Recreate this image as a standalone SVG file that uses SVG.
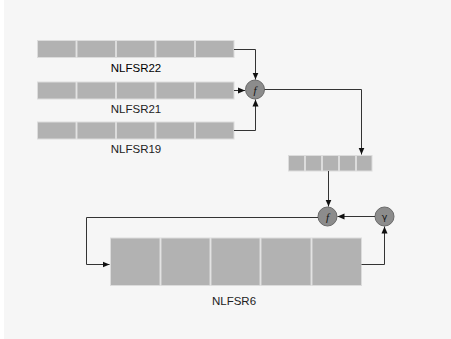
<svg xmlns="http://www.w3.org/2000/svg" width="451" height="339" viewBox="0 0 451 339">
<style>
.cell{fill:#b2b2b2;stroke:#dcdcdc;stroke-width:1}
.lbl{font-family:"Liberation Sans",Arial,sans-serif;font-size:11.5px;fill:#222;text-anchor:middle}
.node{fill:#8c8c8c;stroke:#6a6a6a;stroke-width:1}
.sym{font-family:"Liberation Serif","Times New Roman",serif;font-size:11px;fill:#111;text-anchor:middle}
.wire{fill:none;stroke:#333;stroke-width:1}
</style>
<defs>
<marker id="ah" markerWidth="8" markerHeight="8" refX="7" refY="4" orient="auto" markerUnits="userSpaceOnUse">
<path d="M0,1 L7,4 L0,7 Z" fill="#111"/>
</marker>
</defs>
<rect x="0" y="0" width="451" height="339" fill="#ffffff"/>
<rect x="4" y="0" width="447" height="339" fill="#f6f6f6"/>
<g id="nlfsr22">
<rect class="cell" x="37.5" y="40.5" width="38.5" height="17"/>
<rect class="cell" x="77" y="40.5" width="38.5" height="17"/>
<rect class="cell" x="116.5" y="40.5" width="38.5" height="17"/>
<rect class="cell" x="156" y="40.5" width="38.5" height="17"/>
<rect class="cell" x="195.5" y="40.5" width="38.5" height="17"/>
<text class="lbl" x="136" y="72" style="fill:#000">NLFSR22</text>
</g>
<g id="nlfsr21">
<rect class="cell" x="37.5" y="82" width="38.5" height="17"/>
<rect class="cell" x="77" y="82" width="38.5" height="17"/>
<rect class="cell" x="116.5" y="82" width="38.5" height="17"/>
<rect class="cell" x="156" y="82" width="38.5" height="17"/>
<rect class="cell" x="195.5" y="82" width="38.5" height="17"/>
<text class="lbl" x="136" y="113">NLFSR21</text>
</g>
<g id="nlfsr19">
<rect class="cell" x="37.5" y="122" width="38.5" height="17"/>
<rect class="cell" x="77" y="122" width="38.5" height="17"/>
<rect class="cell" x="116.5" y="122" width="38.5" height="17"/>
<rect class="cell" x="156" y="122" width="38.5" height="17"/>
<rect class="cell" x="195.5" y="122" width="38.5" height="17"/>
<text class="lbl" x="136" y="153">NLFSR19</text>
</g>
<g id="f1">
<circle class="node" cx="255" cy="89.5" r="9.5"/>
<text class="sym" x="255" y="93.5" font-style="italic">f</text>
</g>
<g id="buffer">
<rect class="cell" x="288.5" y="155.5" width="16" height="15.5"/>
<rect class="cell" x="305.5" y="155.5" width="16" height="15.5"/>
<rect class="cell" x="322.5" y="155.5" width="16" height="15.5"/>
<rect class="cell" x="339.5" y="155.5" width="16" height="15.5"/>
<rect class="cell" x="356.5" y="155.5" width="15.5" height="15.5"/>
</g>
<g id="f2">
<circle class="node" cx="327.5" cy="216.5" r="9.5"/>
<text class="sym" x="327.5" y="220.5" font-style="italic">f</text>
</g>
<g id="gamma">
<circle class="node" cx="384.5" cy="216.5" r="9.5"/>
<text class="sym" x="384.5" y="220" style="font-family:'DejaVu Sans',sans-serif;font-size:9.5px">γ</text>
</g>
<g id="nlfsr6">
<rect class="cell" x="110.5" y="238" width="49.5" height="47.5"/>
<rect class="cell" x="161" y="238" width="49" height="47.5"/>
<rect class="cell" x="211" y="238" width="49" height="47.5"/>
<rect class="cell" x="261" y="238" width="50" height="47.5"/>
<rect class="cell" x="312" y="238" width="49.5" height="47.5"/>
<text class="lbl" x="234" y="305">NLFSR6</text>
</g>
<g id="connectors">
<path class="wire" d="M234,49.5 H255.5 V79.5" marker-end="url(#ah)" stroke="#555"/>
<path class="wire" d="M234,90.5 H245" marker-end="url(#ah)"/>
<path class="wire" d="M234,130.5 H255.5 V99.5" marker-end="url(#ah)"/>
<path class="wire" d="M264.5,89.5 H361.5 V154.5" marker-end="url(#ah)"/>
<path class="wire" d="M328.5,171 V206.5" marker-end="url(#ah)"/>
<path class="wire" d="M375,216.5 H337.5" marker-end="url(#ah)"/>
<path class="wire" d="M318,217.5 H86.5 V264.5 H109.5" marker-end="url(#ah)"/>
<path class="wire" d="M361.5,264.5 H384.5 V226.5" marker-end="url(#ah)"/>
</g>
</svg>
